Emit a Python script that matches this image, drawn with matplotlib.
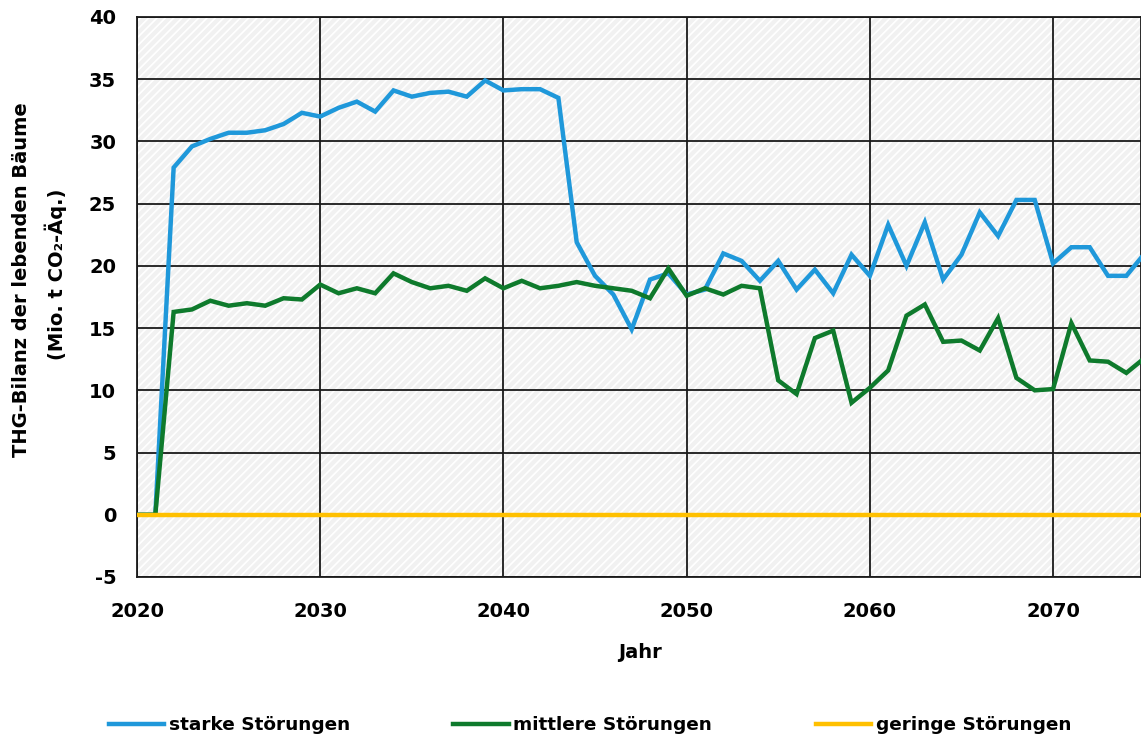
import matplotlib
matplotlib.use("Agg")
import matplotlib.pyplot as plt
from matplotlib.patches import Rectangle

years = list(range(2020, 2076))
starke = [0, 0, 27.9, 29.6, 30.2, 30.7, 30.7, 30.9, 31.4, 32.3,
          32.0, 32.7, 33.2, 32.4, 34.1, 33.6, 33.9, 34.0, 33.6, 34.9,
          34.1, 34.2, 34.2, 33.5, 21.9, 19.2, 17.7, 14.9, 18.9, 19.4,
          17.7, 18.1, 21.0, 20.4, 18.8, 20.4, 18.1, 19.7, 17.8, 20.9,
          19.2, 23.3, 20.0, 23.5, 18.9, 20.9, 24.3, 22.4, 25.3, 25.3,
          20.2, 21.5, 21.5, 19.2, 19.2, 21.0]
mittlere = [0, 0, 16.3, 16.5, 17.2, 16.8, 17.0, 16.8, 17.4, 17.3,
            18.5, 17.8, 18.2, 17.8, 19.4, 18.7, 18.2, 18.4, 18.0, 19.0,
            18.2, 18.8, 18.2, 18.4, 18.7, 18.4, 18.2, 18.0, 17.4, 19.8,
            17.6, 18.2, 17.7, 18.4, 18.2, 10.8, 9.7, 14.2, 14.8, 9.0,
            10.2, 11.6, 16.0, 16.9, 13.9, 14.0, 13.2, 15.8, 11.0, 10.0,
            10.1, 15.4, 12.4, 12.3, 11.4, 12.6]
geringe = [0] * len(years)

series_labels = ["starke Störungen", "mittlere Störungen", "geringe Störungen"]
colors = ["#1F98DA", "#0E7A2C", "#FFC000"]
yticks = [-5, 0, 5, 10, 15, 20, 25, 30, 35, 40]
xticks = [2020, 2030, 2040, 2050, 2060, 2070]

plt.rcParams['axes.unicode_minus'] = False
plt.rcParams['hatch.linewidth'] = 1.2
font = "DejaVu Sans"
fs = 14

fig = plt.figure(figsize=(11.41, 7.44), dpi=100)
ax = fig.add_axes([137/1141, 1 - 577/744, 1 - 137/1141, (577 - 17)/744])

ax.set_facecolor("#F1F1F1")
bg = Rectangle((0, 0), 1, 1, transform=ax.transAxes, facecolor="none",
               edgecolor="#FFFFFF", hatch="////", linewidth=0, zorder=0)
ax.add_patch(bg)

for vals, c, lab in zip([starke, mittlere, geringe], colors, series_labels):
    ax.plot(years, vals, color=c, lw=3.2, label=lab, zorder=3,
            solid_joinstyle="miter")

ax.set_xlim(2020, 2074.8)
ax.set_ylim(-5, 40)
ax.set_xticks(xticks)
ax.set_yticks(yticks)
ax.grid(True, color="#1a1a1a", lw=1.3, zorder=1)
ax.set_axisbelow(True)
for s in ax.spines.values():
    s.set_color("#1a1a1a")
    s.set_linewidth(1.3)
ax.tick_params(axis="y", length=0, pad=15, labelsize=fs)
ax.tick_params(axis="x", length=0, pad=18, labelsize=fs)
for t in ax.get_xticklabels() + ax.get_yticklabels():
    t.set_fontfamily(font)
    t.set_fontweight("bold")

fig.text(640/1141, 1 - 652/744, "Jahr", ha="center", va="center",
         fontfamily=font, fontweight="bold", fontsize=fs)
fig.text(22/1141, 1 - 280/744, "THG-Bilanz der lebenden Bäume",
         rotation=90, ha="center", va="center", fontfamily=font,
         fontweight="bold", fontsize=fs)
fig.text(56/1141, 1 - 274/744, "(Mio. t CO₂-Äq.)",
         rotation=90, ha="center", va="center", fontfamily=font,
         fontweight="bold", fontsize=fs)

leg = fig.legend(loc="center", bbox_to_anchor=(590/1141, 1 - 725/744), ncol=3,
                 frameon=False, prop={"family": font, "weight": "bold", "size": 13.3},
                 handlelength=3.0, handletextpad=0.25, columnspacing=5.6,
                 borderaxespad=0, borderpad=0)

fig.savefig("out.png", dpi=100)
